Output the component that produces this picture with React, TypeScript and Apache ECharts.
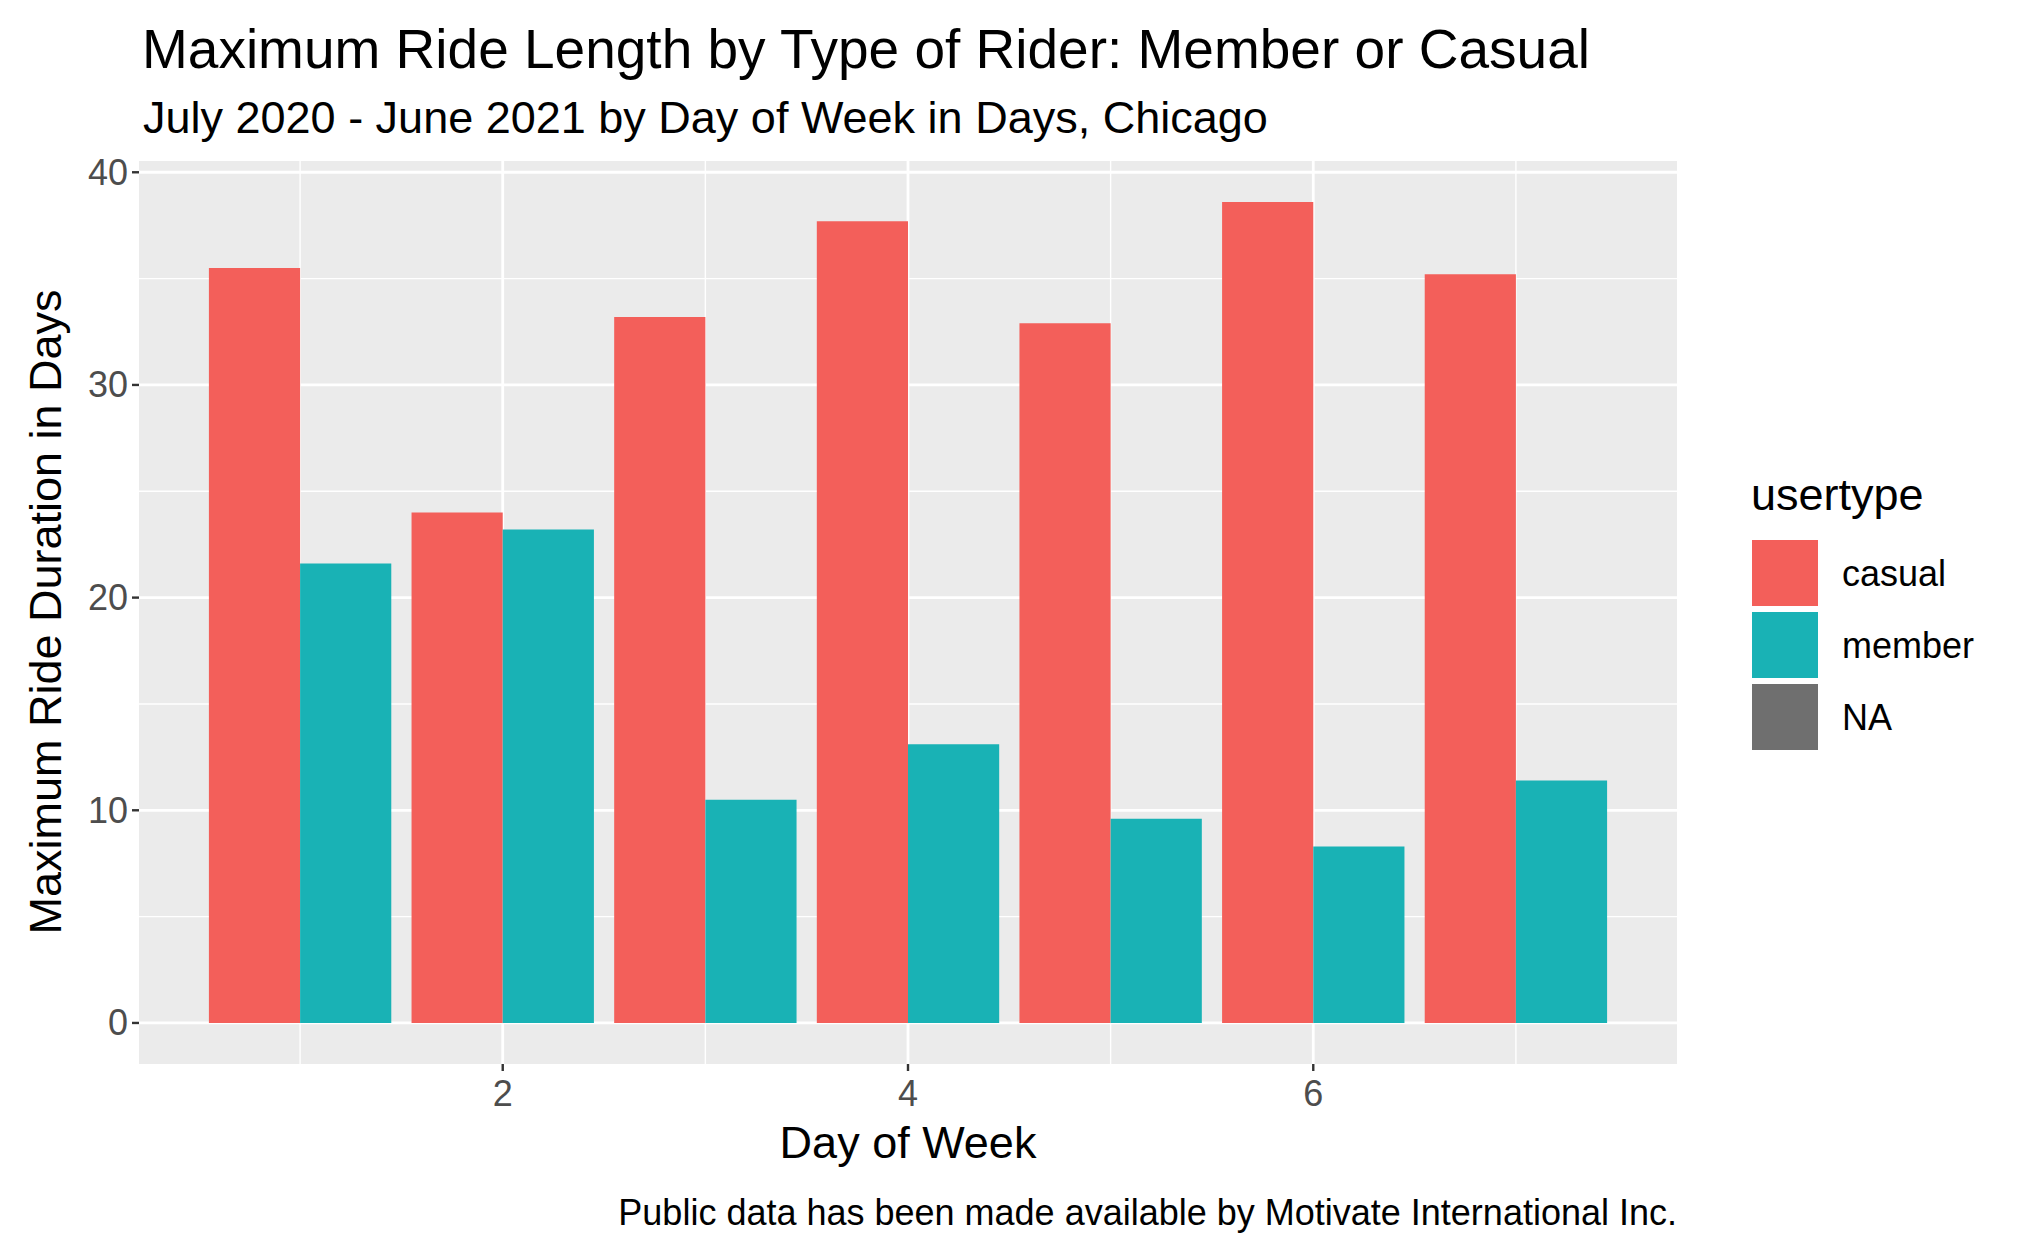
import * as echarts from "echarts";
import { useEffect, useRef } from "react";

const days = [1, 2, 3, 4, 5, 6, 7];
const casual = [35.5, 24.0, 33.2, 37.7, 32.9, 38.6, 35.2];
const member = [21.6, 23.2, 10.5, 13.1, 9.6, 8.3, 11.4];
const xTicks = [2, 4, 6];
const yTicks = [0, 10, 20, 30, 40];
const xMinor = [1, 3, 5, 7];
const yMinor = [5, 15, 25, 35];

const CASUAL = "#F35F5A";
const MEMBER = "#19B2B5";
const FONT = "Liberation Sans, Arial, sans-serif";

const App = () => {
  const chartRef = useRef(null);

  useEffect(() => {
    document.body.style.margin = "0";
    const chart = echarts.init(chartRef.current, null, { renderer: "svg" });

    // [position, orient (0 vertical, 1 horizontal), major]
    const gridData = [
      ...xTicks.map((v) => [v, 0, 1]),
      ...xMinor.map((v) => [v, 0, 0]),
      ...yTicks.map((v) => [v, 1, 1]),
      ...yMinor.map((v) => [v, 1, 0]),
    ];
    const axisData = [...xTicks.map((v) => [v, 0]), ...yTicks.map((v) => [v, 1])];
    const xMin = 0.205, xMax = 7.795, yMin = -1.93, yMax = 40.53;

    const options = {
      animation: false,
      title: [
        { text: "Maximum Ride Length by Type of Rider: Member or Casual", left: 137, top: 16,
          textStyle: { fontFamily: FONT, fontSize: 55, fontWeight: "normal", color: "#000" } },
        { text: "July 2020 - June 2021 by Day of Week in Days, Chicago", left: 138, top: 90,
          textStyle: { fontFamily: FONT, fontSize: 45, fontWeight: "normal", color: "#000" } },
      ],
      grid: { left: 139, right: 343, top: 161, bottom: 185, show: true, backgroundColor: "#EBEBEB", borderWidth: 0 },
      xAxis: { type: "value", min: xMin, max: xMax, show: false },
      yAxis: { type: "value", min: yMin, max: yMax, show: false },
      series: [
        {
          type: "custom", z: 1, silent: true, data: gridData,
          renderItem: (params: any, api: any) => {
            const v = api.value(0), o = api.value(1), major = api.value(2);
            const p1 = o === 0 ? api.coord([v, yMin]) : api.coord([xMin, v]);
            const p2 = o === 0 ? api.coord([v, yMax]) : api.coord([xMax, v]);
            return { type: "line", shape: { x1: p1[0], y1: p1[1], x2: p2[0], y2: p2[1] },
              style: { stroke: "#FFFFFF", lineWidth: major ? 2.8 : 1.4 } };
          },
        },
        {
          type: "custom", z: 2, silent: true,
          data: days.map((d, i) => [d, casual[i], member[i]]),
          renderItem: (params: any, api: any) => {
            const d = api.value(0);
            const base = api.coord([d, 0])[1];
            const left = api.coord([d - 0.45, 0])[0];
            const mid = api.coord([d, 0])[0];
            const right = api.coord([d + 0.45, 0])[0];
            const yc = api.coord([d, api.value(1)])[1];
            const ym = api.coord([d, api.value(2)])[1];
            return { type: "group", children: [
              { type: "rect", shape: { x: left, y: yc, width: mid - left, height: base - yc }, style: { fill: CASUAL } },
              { type: "rect", shape: { x: mid, y: ym, width: right - mid, height: base - ym }, style: { fill: MEMBER } },
            ] };
          },
        },
        {
          type: "custom", z: 3, silent: true, clip: false, data: axisData,
          renderItem: (params: any, api: any) => {
            const v = api.value(0), o = api.value(1);
            if (o === 0) {
              const p = api.coord([v, yMin]);
              return { type: "group", children: [
                { type: "line", shape: { x1: p[0], y1: p[1], x2: p[0], y2: p[1] + 7 }, style: { stroke: "#333", lineWidth: 2.4 } },
                { type: "text", style: { text: String(v), x: p[0], y: p[1] + 11, align: "center", verticalAlign: "top",
                  fill: "#4D4D4D", fontSize: 36, fontFamily: FONT } },
              ] };
            }
            const p = api.coord([xMin, v]);
            return { type: "group", children: [
              { type: "line", shape: { x1: p[0] - 7, y1: p[1], x2: p[0], y2: p[1] }, style: { stroke: "#333", lineWidth: 2.4 } },
              { type: "text", style: { text: String(v), x: p[0] - 11, y: p[1], align: "right", verticalAlign: "middle",
                fill: "#4D4D4D", fontSize: 36, fontFamily: FONT } },
            ] };
          },
        },
      ],
      graphic: [
        { type: "text", x: 908, y: 1142, style: { text: "Day of Week", align: "center", verticalAlign: "middle", fill: "#000", fontSize: 45, fontFamily: FONT } },
        { type: "text", x: 45, y: 612, rotation: Math.PI / 2, style: { text: "Maximum Ride Duration in Days", align: "center", verticalAlign: "middle", fill: "#000", fontSize: 45, fontFamily: FONT } },
        { type: "text", x: 1677, y: 1212, style: { text: "Public data has been made available by Motivate International Inc.", align: "right", verticalAlign: "middle", fill: "#000", fontSize: 36, fontFamily: FONT } },
        { type: "text", x: 1751, y: 494, style: { text: "usertype", align: "left", verticalAlign: "middle", fill: "#000", fontSize: 45, fontFamily: FONT } },
        ...[["casual", CASUAL], ["member", MEMBER], ["NA", "#6F6F6F"]].flatMap(([name, color], i) => [
          { type: "rect", shape: { x: 1751, y: 539 + i * 72, width: 68, height: 68 }, style: { fill: color, stroke: "#FFFFFF", lineWidth: 2 } },
          { type: "text", x: 1842, y: 573 + i * 72, style: { text: name, align: "left", verticalAlign: "middle", fill: "#000", fontSize: 36, fontFamily: FONT } },
        ]),
      ],
    };

    chart.setOption(options);
    const handleResize = () => chart.resize();
    window.addEventListener("resize", handleResize);
    return () => {
      window.removeEventListener("resize", handleResize);
      chart.dispose();
    };
  }, []);

  return <div ref={chartRef} style={{ width: "2020px", height: "1249px" }} />;
};

export default App;
